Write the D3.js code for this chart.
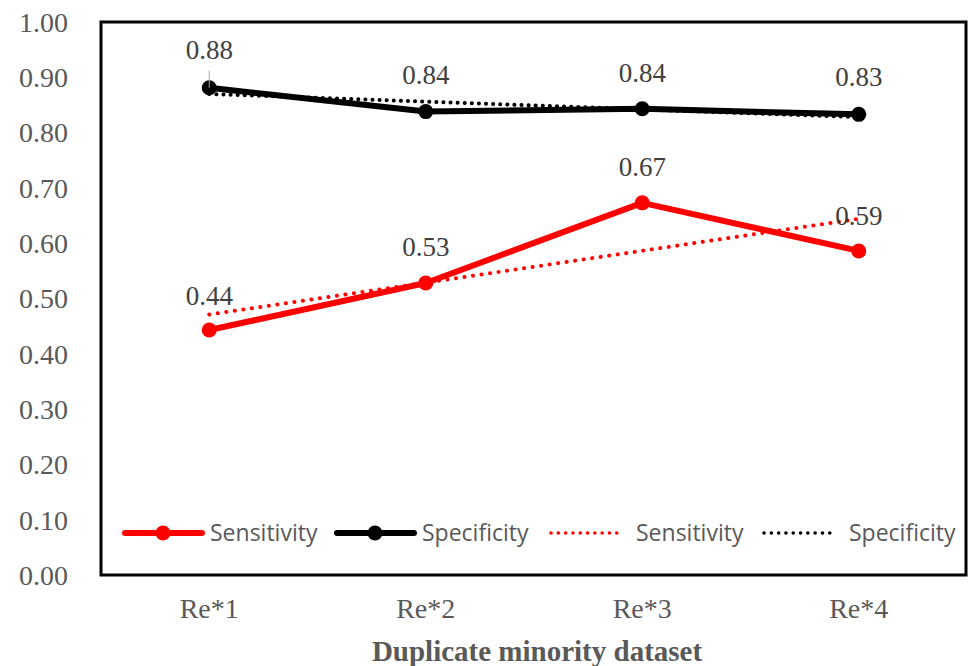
<!DOCTYPE html>
<html>
<head>
<meta charset="utf-8">
<script src="https://cdn.jsdelivr.net/npm/d3@7"></script>
<style>
  body { margin: 0; background: #fff; }
  svg { display: block; }
  .serif { font-family: 'Liberation Serif', 'DejaVu Serif', serif; }
  .sans { font-family: 'Open Sans', 'Noto Sans', sans-serif; }
</style>
</head>
<body>
<div id="chart"></div>
<script>
// Duplicate minority dataset - sensitivity / specificity line chart

const categories = ['Re*1', 'Re*2', 'Re*3', 'Re*4'];
const sensitivity = [0.443, 0.528, 0.673, 0.586];
const specificity = [0.881, 0.838, 0.843, 0.833];
const sensLabels = ['0.44', '0.53', '0.67', '0.59'];
const specLabels = ['0.88', '0.84', '0.84', '0.83'];
// linear trendline ends (first and last category)
const sensTrend = [0.471, 0.644];
const specTrend = [0.870, 0.828];
const yTicks = [0, 0.1, 0.2, 0.3, 0.4, 0.5, 0.6, 0.7, 0.8, 0.9, 1.0];

const width = 971, height = 666;
const margin = { top: 22, right: 4, bottom: 91, left: 101 };
const textGray = '#595959';

const svg = d3.select('#chart')
    .append('svg')
    .attr('width', width)
    .attr('height', height);

const x = d3.scalePoint()
    .domain(categories)
    .range([margin.left, width - margin.right])
    .padding(0.5);

const y = d3.scaleLinear()
    .domain([0, 1])
    .range([height - margin.bottom, margin.top]);

// Y axis labels
svg.append('g')
    .selectAll('text')
    .data(yTicks)
    .enter().append('text')
    .attr('class', 'serif')
    .attr('x', 68)
    .attr('y', d => y(d))
    .attr('dy', '0.35em')
    .attr('text-anchor', 'end')
    .attr('font-size', 28)
    .attr('fill', textGray)
    .text(d => d.toFixed(2));

// X axis labels
svg.append('g')
    .selectAll('text')
    .data(categories)
    .enter().append('text')
    .attr('class', 'serif')
    .attr('x', d => x(d))
    .attr('y', 618)
    .attr('text-anchor', 'middle')
    .attr('font-size', 28)
    .attr('fill', textGray)
    .text(d => d);

// Axis title
svg.append('text')
    .attr('class', 'serif')
    .attr('x', 537)
    .attr('y', 661)
    .attr('text-anchor', 'middle')
    .attr('font-size', 29)
    .attr('font-weight', 'bold')
    .attr('fill', textGray)
    .text('Duplicate minority dataset');

const line = d3.line()
    .x((d, i) => x(categories[i]))
    .y(d => y(d));

const trendX = [categories[0], categories[categories.length - 1]];
const trendLine = d3.line()
    .x((d, i) => x(trendX[i]))
    .y(d => y(d));

// Trendlines (round dots)
svg.append('path')
    .attr('d', trendLine(sensTrend))
    .attr('fill', 'none')
    .attr('stroke', '#ff0000')
    .attr('stroke-width', 4)
    .attr('stroke-linecap', 'round')
    .attr('stroke-dasharray', '0.1 8.5');

svg.append('path')
    .attr('d', trendLine(specTrend))
    .attr('fill', 'none')
    .attr('stroke', '#000')
    .attr('stroke-width', 4)
    .attr('stroke-linecap', 'round')
    .attr('stroke-dasharray', '0.1 7');

// Main series
const series = [
    { values: sensitivity, color: '#ff0000' },
    { values: specificity, color: '#000000' }
];

series.forEach(s => {
    svg.append('path')
        .attr('d', line(s.values))
        .attr('fill', 'none')
        .attr('stroke', s.color)
        .attr('stroke-width', 6)
        .attr('stroke-linejoin', 'round');

    svg.append('g')
        .selectAll('circle')
        .data(s.values)
        .enter().append('circle')
        .attr('cx', (d, i) => x(categories[i]))
        .attr('cy', d => y(d))
        .attr('r', 7.5)
        .attr('fill', s.color);
});

// Data labels
const sensOffsets = [-25, -27, -27, -26];
const specOffsets = [-8, -28, -27, -28];

svg.append('g')
    .selectAll('text')
    .data(sensitivity)
    .enter().append('text')
    .attr('class', 'serif')
    .attr('x', (d, i) => x(categories[i]))
    .attr('y', (d, i) => y(d) + sensOffsets[i])
    .attr('text-anchor', 'middle')
    .attr('font-size', 27)
    .attr('fill', '#404040')
    .text((d, i) => sensLabels[i]);

svg.append('g')
    .selectAll('text')
    .data(specificity)
    .enter().append('text')
    .attr('class', 'serif')
    .attr('x', (d, i) => x(categories[i]))
    .attr('y', (d, i) => i === 0 ? 59 : y(d) + specOffsets[i])
    .attr('text-anchor', 'middle')
    .attr('font-size', 27)
    .attr('fill', '#404040')
    .text((d, i) => specLabels[i]);

// leader line for the first specificity label
svg.append('line')
    .attr('x1', x(categories[0]))
    .attr('x2', x(categories[0]))
    .attr('y1', 71)
    .attr('y2', y(specificity[0]))
    .attr('stroke', '#a6a6a6')
    .attr('stroke-width', 1);

// Plot frame
svg.append('rect')
    .attr('x', margin.left)
    .attr('y', margin.top)
    .attr('width', width - margin.left - margin.right - 1)
    .attr('height', height - margin.top - margin.bottom)
    .attr('fill', 'none')
    .attr('stroke', '#000')
    .attr('stroke-width', 3);

// Legend
const legendItems = [
    { name: 'Sensitivity', color: '#ff0000', dotted: false, x0: 125 },
    { name: 'Specificity', color: '#000000', dotted: false, x0: 337 },
    { name: 'Sensitivity', color: '#ff0000', dotted: true, x0: 551 },
    { name: 'Specificity', color: '#000000', dotted: true, x0: 764 }
];
const legendY = 533;

const legend = svg.append('g');
legendItems.forEach(item => {
    const g = legend.append('g');
    g.append('line')
        .attr('x1', item.x0)
        .attr('x2', item.x0 + (item.dotted ? 72 : 77))
        .attr('y1', legendY)
        .attr('y2', legendY)
        .attr('stroke', item.color)
        .attr('stroke-width', item.dotted ? 3.5 : 6)
        .attr('stroke-linecap', 'round')
        .attr('stroke-dasharray', item.dotted ? '0.1 7.2' : null);
    if (!item.dotted) {
        g.append('circle')
            .attr('cx', item.x0 + 38)
            .attr('cy', legendY)
            .attr('r', 7.5)
            .attr('fill', item.color);
    }
    g.append('text')
        .attr('class', 'sans')
        .attr('x', item.x0 + 85)
        .attr('y', legendY)
        .attr('dy', '0.35em')
        .attr('font-size', 23)
        .attr('fill', textGray)
        .text(item.name);
});
</script>
</body>
</html>
